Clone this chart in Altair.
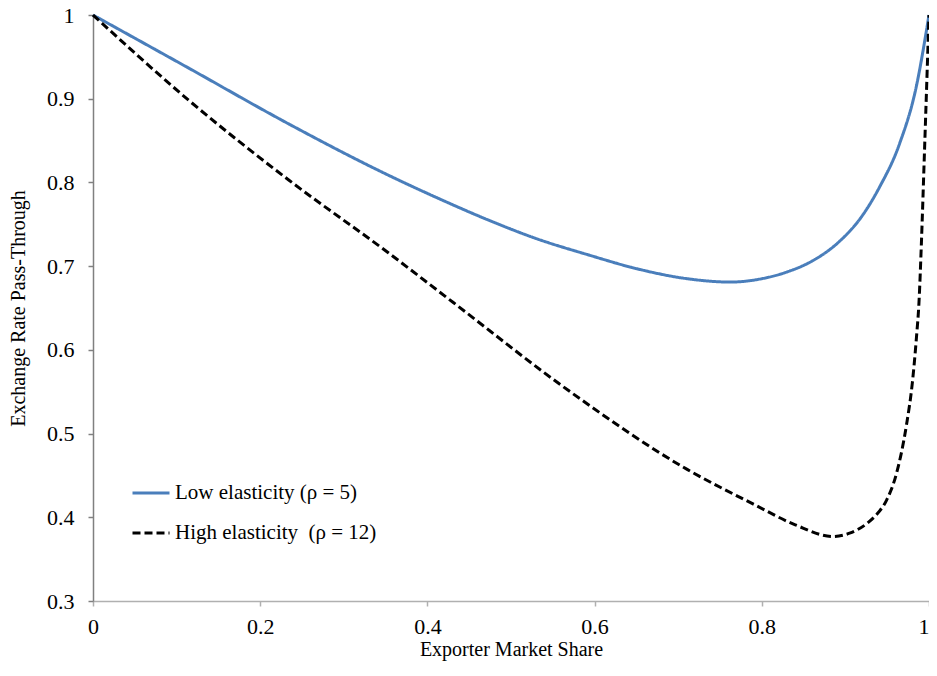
import altair as alt
import pandas as pd

# Exporter market share (x) and pass-through (y)
low_x = [0.0, 0.1155, 0.2345, 0.3536, 0.413, 0.4726, 0.532, 0.5917, 0.651,
         0.7107, 0.762, 0.80, 0.83, 0.86, 0.89, 0.92, 0.941, 0.9647, 0.9845, 1.0]
low_y = [1.0, 0.936, 0.8697, 0.8085, 0.781, 0.7552, 0.7323, 0.7137, 0.6968,
         0.685, 0.681, 0.685, 0.693, 0.706, 0.727, 0.760, 0.7947, 0.846, 0.913, 1.0]

high_x = [0.0, 0.1155, 0.2345, 0.3536, 0.431, 0.568, 0.7107, 0.790, 0.840,
          0.885, 0.905, 0.925, 0.937, 0.949, 0.961, 0.973, 0.980, 0.985,
          0.988, 0.991, 0.9945, 1.0]
high_y = [1.0, 0.8973, 0.8026, 0.7157, 0.6565, 0.552, 0.4572, 0.4157, 0.391,
          0.377, 0.381, 0.392, 0.403, 0.420, 0.452, 0.510, 0.560, 0.615,
          0.6565, 0.73, 0.834, 1.0]

series_names = ["Low elasticity (\u03c1 = 5)", "High elasticity \u00a0(\u03c1 = 12)"]
series_colors = ["#4A7EBB", "#000000"]
series_dash = [[1, 0], [8, 4]]

x_ticks = [0, 0.2, 0.4, 0.6, 0.8, 1.0]
y_ticks = [0.3, 0.4, 0.5, 0.6, 0.7, 0.8, 0.9, 1.0]

rows = []
for i, (xv, yv) in enumerate(zip(low_x, low_y)):
    rows.append({"share": xv, "pt": yv, "series": series_names[0], "order": i})
for i, (xv, yv) in enumerate(zip(high_x, high_y)):
    rows.append({"share": xv, "pt": yv, "series": series_names[1], "order": i})
df = pd.DataFrame(rows)

FONT = "Liberation Serif, Times New Roman, serif"

legend_kw = dict(title=None, orient="none", legendX=38, legendY=458,
                 symbolType="stroke", symbolSize=1369, symbolStrokeWidth=3,
                 labelFontSize=21, labelFont=FONT, labelLimit=400,
                 rowPadding=10, padding=0, labelOffset=4, labelColor="#000000")

chart = alt.Chart(df).mark_line(strokeWidth=3, interpolate="monotone").encode(
    x=alt.X("share:Q",
            scale=alt.Scale(domain=[0, 1], nice=False, zero=False),
            axis=alt.Axis(title="Exporter Market Share", values=x_ticks, format="~g",
                          grid=False, domainColor="#B0B0B0", tickColor="#B0B0B0",
                          domainWidth=1.5, tickWidth=1.5,
                          tickSize=5, labelPadding=10, titlePadding=2,
                          labelAlign=alt.expr("datum.value == 1 ? 'right' : 'center'"),
                          labelFont=FONT, titleFont=FONT, labelColor="#000000",
                          titleColor="#000000", titleFontWeight="normal",
                          labelFontSize=22, titleFontSize=20, labelFlush=False)),
    y=alt.Y("pt:Q",
            scale=alt.Scale(domain=[0.3, 1], nice=False, zero=False),
            axis=alt.Axis(title="Exchange Rate Pass-Through", values=y_ticks, format="~g",
                          grid=False, domainColor="#808080", tickColor="#808080",
                          domainWidth=1.5, tickWidth=1.5,
                          tickSize=5, labelPadding=14, titlePadding=18,
                          labelFont=FONT, titleFont=FONT, labelColor="#000000",
                          titleColor="#000000", titleFontWeight="normal",
                          labelFontSize=22, titleFontSize=20)),
    color=alt.Color("series:N",
                    scale=alt.Scale(domain=series_names, range=series_colors),
                    legend=alt.Legend(**legend_kw)),
    strokeDash=alt.StrokeDash("series:N",
                              scale=alt.Scale(domain=series_names, range=series_dash),
                              legend=alt.Legend(**legend_kw)),
    order="order:Q",
).properties(
    width=836,
    height=586,
    autosize=alt.AutoSizeParams(type="none"),
    padding={"left": 85, "top": 7, "right": 0, "bottom": 61},
).configure(
    font=FONT, background="white"
).configure_axis(
    labelFont=FONT, titleFont=FONT
).configure_legend(
    labelFont=FONT
).configure_view(
    stroke=None
)

chart.save("out.html", embed_options={"renderer": "svg", "actions": False})
